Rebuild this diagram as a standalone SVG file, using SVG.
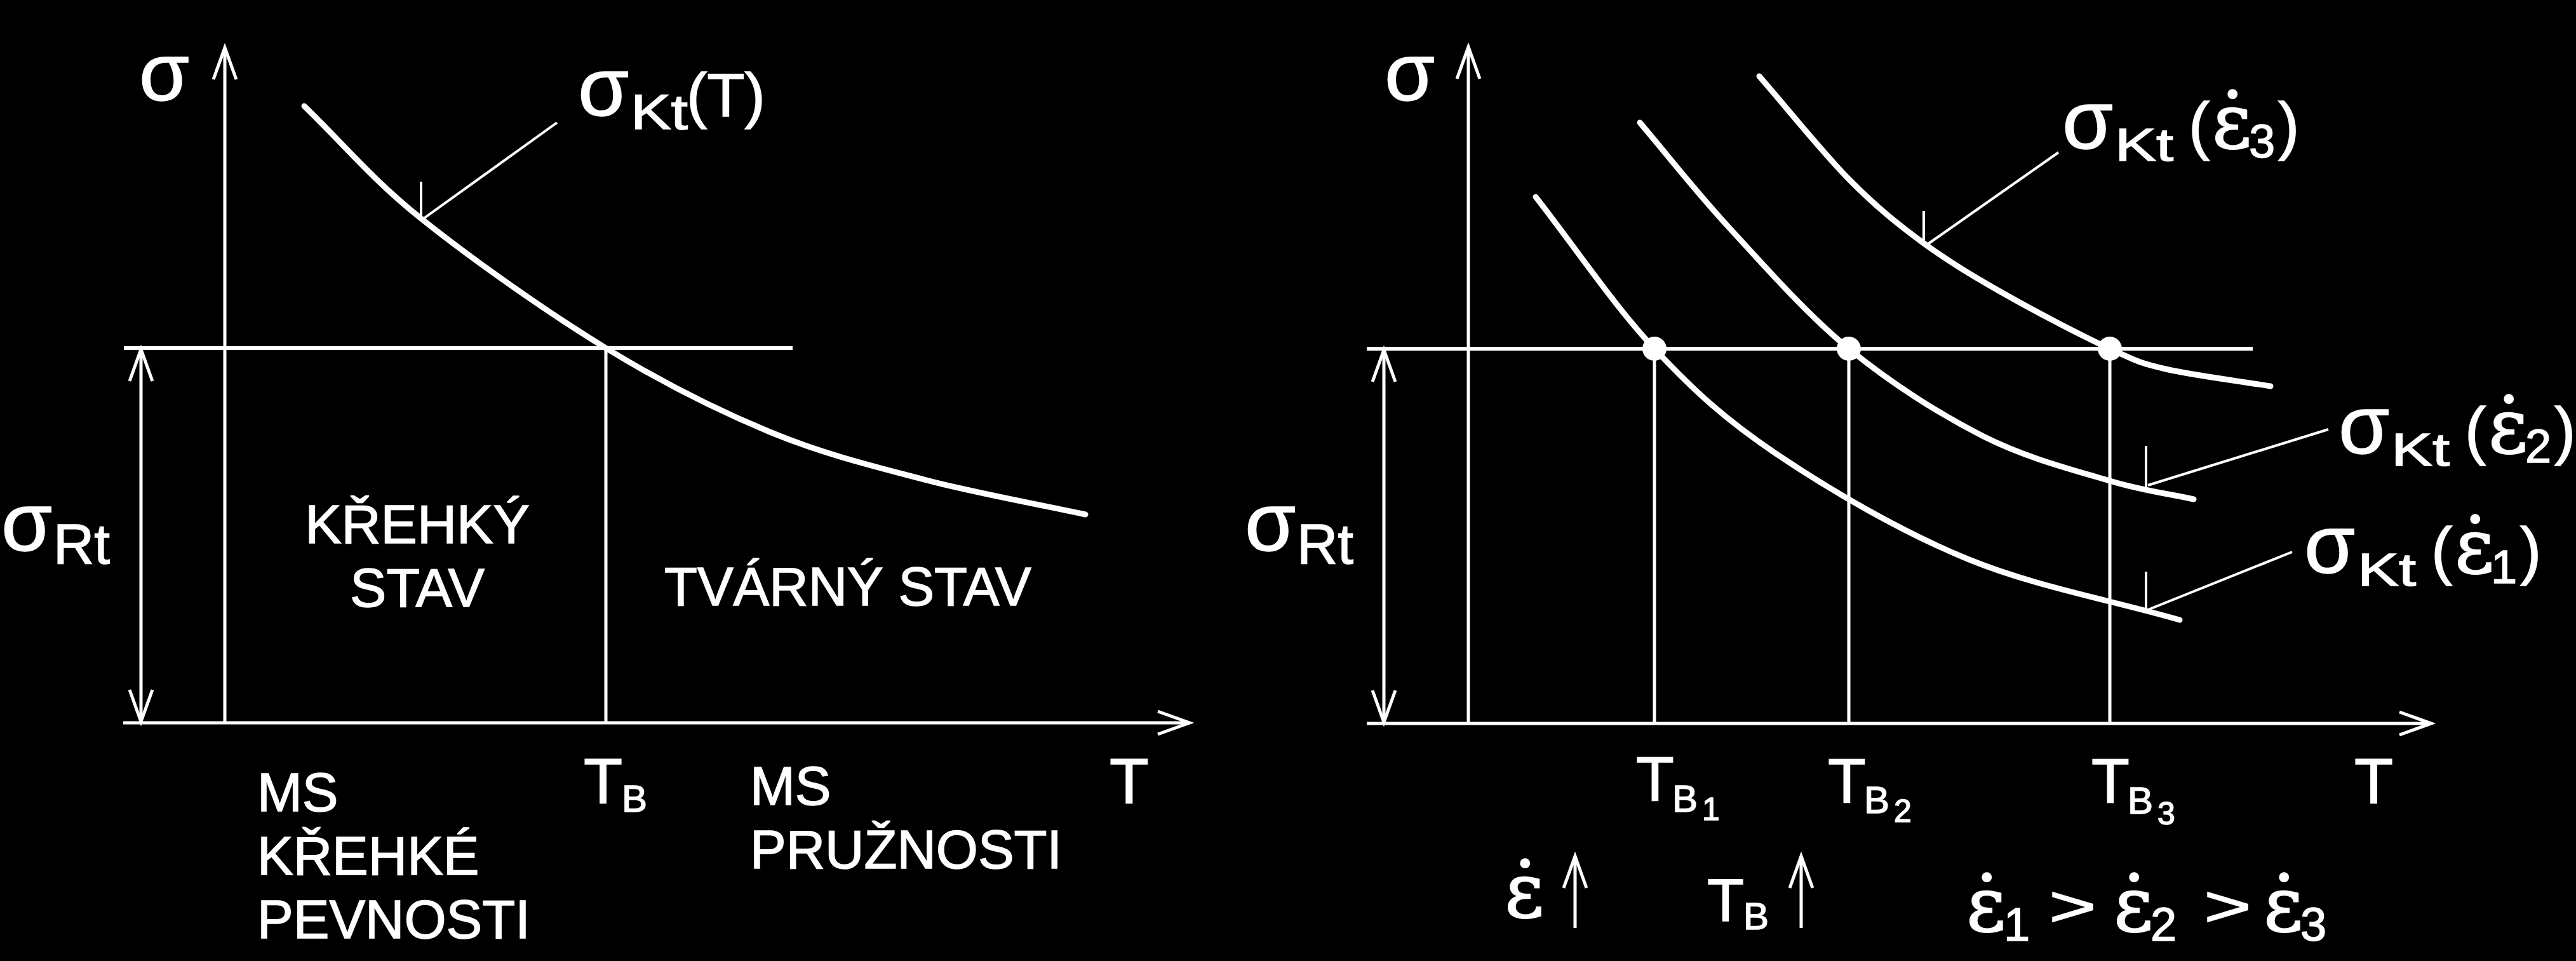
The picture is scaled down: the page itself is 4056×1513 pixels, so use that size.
<svg xmlns="http://www.w3.org/2000/svg" width="4056" height="1513" viewBox="0 0 4056 1513">
<style>
.bg{fill:#000}
.ln{stroke:#fff;stroke-width:5;fill:none}
.hl{stroke:#fff;stroke-width:6;fill:none}
.cv{stroke:#fff;stroke-width:9;fill:none;stroke-linecap:round}
.ld{stroke:#fff;stroke-width:4;fill:none}
.t{fill:#fff;stroke:#fff;stroke-width:1.5;font-family:"Liberation Sans",Arial,sans-serif}
.e{fill:#fff;stroke:#fff;stroke-width:2;font-family:"DejaVu Serif","Liberation Serif",serif}
.dot{fill:#fff}
</style>
<defs>
<marker id="ah" markerUnits="userSpaceOnUse" markerWidth="60" markerHeight="44" refX="50" refY="18" orient="auto-start-reverse" overflow="visible">
<path d="M0,0 L50,18 L0,36" fill="none" stroke="#fff" stroke-width="5"/>
</marker>
</defs>
<rect class="bg" x="0" y="0" width="4056" height="1513"/>

<g id="connectors">
<!-- left chart -->
<line class="ln" x1="354" y1="1138" x2="354" y2="75" marker-end="url(#ah)"/>
<line class="ln" x1="194" y1="1138" x2="1873" y2="1138" marker-end="url(#ah)"/>
<line class="ln" x1="222" y1="550" x2="222" y2="1136" marker-start="url(#ah)" marker-end="url(#ah)"/>
<line class="hl" x1="195" y1="548" x2="1248" y2="548"/>
<line class="ln" x1="954" y1="548" x2="954" y2="1138"/>
<path class="cv" d="M479,167 C540.3,226 583.8,280.5 663,344 C742.2,407.5 862.5,492 954,548 C1045.5,604 1128.5,645.5 1212,680 C1295.5,714.5 1372.2,733.3 1455,755 C1537.8,776.7 1624.3,791.7 1709,810"/>
<line class="ld" x1="877" y1="193" x2="667" y2="344"/>
<line class="ld" x1="663" y1="286" x2="663" y2="344"/>
<!-- right chart -->
<line class="ln" x1="2312" y1="1139" x2="2312" y2="74" marker-end="url(#ah)"/>
<line class="ln" x1="2152" y1="1139" x2="3828" y2="1139" marker-end="url(#ah)"/>
<line class="ln" x1="2179" y1="551" x2="2179" y2="1137" marker-start="url(#ah)" marker-end="url(#ah)"/>
<line class="hl" x1="2152" y1="549" x2="3547" y2="549"/>
<line class="ln" x1="2605" y1="549" x2="2605" y2="1139"/>
<line class="ln" x1="2911" y1="549" x2="2911" y2="1139"/>
<line class="ln" x1="3322" y1="549" x2="3322" y2="1139"/>
<path class="cv" d="M2418,310 C2480.3,389.7 2541.5,481.3 2605,549 C2668.5,616.7 2716.8,660.8 2799,716 C2881.2,771.2 2992.5,836.7 3098,880 C3203.5,923.3 3320.7,944 3432,976"/>
<path class="cv" d="M2582,193 C2629.3,248.7 2669.2,300.7 2724,360 C2778.8,419.3 2844.5,494.5 2911,549 C2977.5,603.5 3054.5,652.3 3123,687 C3191.5,721.7 3266.8,740.5 3322,757 C3377.2,773.5 3410,776.3 3454,786"/>
<path class="cv" d="M2770,120 C2817,174 2867.8,238.2 2911,282 C2954.2,325.8 2987.5,352.5 3029,383 C3070.5,413.5 3111.2,437.3 3160,465 C3208.8,492.7 3280.3,529.7 3322,549 C3363.7,568.3 3367.8,571.2 3410,581 C3452.2,590.8 3520,599 3575,608"/>
<line class="ld" x1="3241" y1="240" x2="3033" y2="386"/>
<line class="ld" x1="3029" y1="332" x2="3029" y2="386"/>
<line class="ld" x1="3666" y1="676" x2="3382" y2="764"/>
<line class="ld" x1="3379" y1="702" x2="3379" y2="768"/>
<line class="ld" x1="3609" y1="869" x2="3382" y2="960"/>
<line class="ld" x1="3379" y1="900" x2="3379" y2="964"/>
</g>

<g id="points">
<circle class="dot" cx="2605" cy="549" r="19"/>
<circle class="dot" cx="2911" cy="549" r="19"/>
<circle class="dot" cx="3322" cy="549" r="19"/>
</g>

<!-- left chart labels -->
<g id="l-sigma-axis"><text class="t" x="219" y="158" font-size="128">σ</text></g>
<g id="l-sigma-rt">
<text class="t" x="2" y="867" font-size="130">σ</text>
<text class="t" x="84" y="887" font-size="89">Rt</text>
</g>
<g id="l-sigma-kt">
<text class="t" x="910" y="182" font-size="130">σ</text>
<text class="t" x="993" y="203" font-size="78" textLength="90" lengthAdjust="spacingAndGlyphs">Kt</text>
<text class="t" x="1081" y="183" font-size="97">(T)</text>
</g>
<g id="l-brittle">
<text class="t" x="657" y="855" font-size="86" text-anchor="middle">KŘEHKÝ</text>
<text class="t" x="657" y="955" font-size="86" text-anchor="middle">STAV</text>
</g>
<g id="l-ductile"><text class="t" x="1046" y="953" font-size="85">TVÁRNÝ STAV</text></g>
<g id="l-ms-brittle">
<text class="t" x="405" y="1277" font-size="85">MS</text>
<text class="t" x="405" y="1377" font-size="85">KŘEHKÉ</text>
<text class="t" x="405" y="1477" font-size="85">PEVNOSTI</text>
</g>
<g id="l-tb">
<text class="t" x="919" y="1264" font-size="100">T</text>
<text class="t" x="979" y="1278" font-size="60">B</text>
</g>
<g id="l-ms-elastic">
<text class="t" x="1181" y="1267" font-size="85">MS</text>
<text class="t" x="1181" y="1367" font-size="85">PRUŽNOSTI</text>
</g>
<g id="l-t"><text class="t" x="1747" y="1264" font-size="101">T</text></g>

<!-- right chart labels -->
<g id="r-sigma-axis"><text class="t" x="2180" y="158" font-size="128">σ</text></g>
<g id="r-sigma-rt">
<text class="t" x="1960" y="867" font-size="130">σ</text>
<text class="t" x="2042" y="887" font-size="89">Rt</text>
</g>
<g id="r-tb1">
<text class="t" x="2576" y="1260" font-size="98">T</text>
<text class="t" x="2633" y="1278" font-size="60">B</text>
<text class="t" x="2680" y="1291" font-size="50">1</text>
</g>
<g id="r-tb2">
<text class="t" x="2878" y="1263" font-size="98">T</text>
<text class="t" x="2935" y="1280" font-size="60">B</text>
<text class="t" x="2982" y="1294" font-size="50">2</text>
</g>
<g id="r-tb3">
<text class="t" x="3293" y="1263" font-size="98">T</text>
<text class="t" x="3350" y="1281" font-size="60">B</text>
<text class="t" x="3397" y="1298" font-size="50">3</text>
</g>
<g id="r-t"><text class="t" x="3707" y="1264" font-size="100">T</text></g>

<g id="r-label-e3">
<text class="t" x="3247" y="234" font-size="130">σ</text>
<text class="t" x="3330" y="253" font-size="72" textLength="92" lengthAdjust="spacingAndGlyphs">Kt</text>
<text class="t" x="3446" y="232" font-size="100">(</text>
<text class="e" x="3483" y="233" font-size="120">ε̇</text>
<text class="t" x="3541" y="248" font-size="74">3</text>
<text class="t" x="3587" y="232" font-size="100">)</text>
</g>
<g id="r-label-e2">
<text class="t" x="3682" y="714" font-size="130">σ</text>
<text class="t" x="3765" y="733" font-size="72" textLength="92" lengthAdjust="spacingAndGlyphs">Kt</text>
<text class="t" x="3881" y="712" font-size="100">(</text>
<text class="e" x="3918" y="713" font-size="120">ε̇</text>
<text class="t" x="3976" y="728" font-size="74">2</text>
<text class="t" x="4022" y="712" font-size="100">)</text>
</g>
<g id="r-label-e1">
<text class="t" x="3628" y="902" font-size="130">σ</text>
<text class="t" x="3712" y="922" font-size="72" textLength="92" lengthAdjust="spacingAndGlyphs">Kt</text>
<text class="t" x="3828" y="901" font-size="100">(</text>
<text class="e" x="3865" y="902" font-size="120">ε̇</text>
<text class="t" x="3922" y="918" font-size="74">1</text>
<text class="t" x="3968" y="901" font-size="100">)</text>
</g>

<g id="r-rate-up">
<text class="e" x="2369" y="1444" font-size="120">ε̇</text>
<line class="ln" x1="2480" y1="1461" x2="2480" y2="1348" marker-end="url(#ah)"/>
</g>
<g id="r-tb-up">
<text class="t" x="2688" y="1450" font-size="95">T</text>
<text class="t" x="2745" y="1463" font-size="60">B</text>
<line class="ln" x1="2836" y1="1461" x2="2836" y2="1348" marker-end="url(#ah)"/>
</g>
<g id="r-order">
<text class="e" x="3096" y="1466" font-size="120">ε̇</text>
<text class="t" x="3155" y="1481" font-size="74">1</text>
<text class="t" x="3226" y="1458" font-size="90" textLength="75" lengthAdjust="spacingAndGlyphs">&gt;</text>
<text class="e" x="3328" y="1466" font-size="120">ε̇</text>
<text class="t" x="3386" y="1481" font-size="74">2</text>
<text class="t" x="3470" y="1458" font-size="90" textLength="75" lengthAdjust="spacingAndGlyphs">&gt;</text>
<text class="e" x="3564" y="1466" font-size="120">ε̇</text>
<text class="t" x="3622" y="1481" font-size="74">3</text>
</g>
</svg>
